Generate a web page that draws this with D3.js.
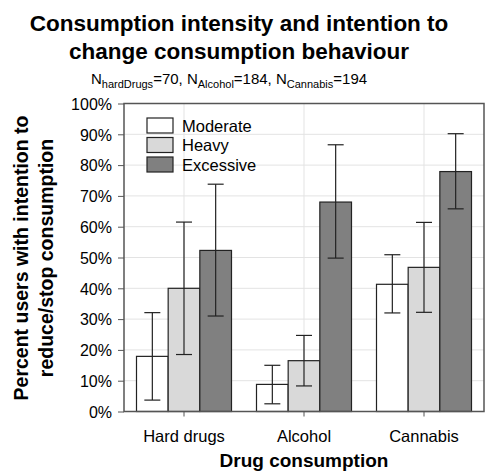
<!DOCTYPE html>
<html>
<head>
<meta charset="utf-8">
<script src="https://cdn.jsdelivr.net/npm/d3@7"></script>
<style>
  body { margin: 0; background: #fff; }
  svg { font-family: "Liberation Sans", Arial, sans-serif; }
</style>
</head>
<body>
<svg width="485" height="472"></svg>
<script>
var categories = ["Hard drugs", "Alcohol", "Cannabis"];
var series = ["Moderate", "Heavy", "Excessive"];
var colors = ["#ffffff", "#d9d9d9", "#808080"];
// percent values per category, in series order
var values = [[17.9, 40.0, 52.3], [8.8, 16.5, 68.0], [41.3, 46.8, 77.9]];
var errLow = [[3.7, 18.5, 31.0], [2.5, 8.3, 49.8], [32.0, 32.2, 65.8]];
var errHigh = [[32.1, 61.5, 73.8], [15.0, 24.7, 86.6], [50.9, 61.4, 90.2]];
var yTicks = [0, 10, 20, 30, 40, 50, 60, 70, 80, 90, 100];

(function() {
var svg = d3.select("svg");
var pl = 124, pr = 484, pt = 103.5, pb = 411.5;

var x = d3.scaleBand().domain(categories).range([pl, pr]).paddingInner(0).paddingOuter(0);
var x1 = d3.scaleBand().domain(series).range([12.5, x.bandwidth() - 12.5]);
var y = d3.scaleLinear().domain([0, 100]).range([pb, pt]);

// grid
var grid = svg.append("g");
grid.selectAll("line.h").data(yTicks.slice(1, -1)).enter().append("line")
  .attr("x1", pl).attr("x2", pr)
  .attr("y1", function(d) { return y(d); }).attr("y2", function(d) { return y(d); })
  .style("stroke", "#e3e3e3").style("stroke-width", 1);
grid.selectAll("line.v").data(categories).enter().append("line")
  .attr("x1", function(d) { return x(d) + x.bandwidth() / 2; })
  .attr("x2", function(d) { return x(d) + x.bandwidth() / 2; })
  .attr("y1", pt).attr("y2", pb)
  .style("stroke", "#e3e3e3").style("stroke-width", 1);

// bars
var groups = svg.append("g").selectAll("g").data(categories).enter().append("g")
  .attr("transform", function(d) { return "translate(" + x(d) + ",0)"; });

groups.each(function(c, ci) {
  var g = d3.select(this);
  series.forEach(function(s, si) {
    var v = values[ci][si];
    g.append("rect")
      .attr("x", x1(s)).attr("width", x1.bandwidth())
      .attr("y", y(v)).attr("height", y(0) - y(v))
      .style("fill", colors[si]).style("stroke", "#222").style("stroke-width", 1.2);
  });
  series.forEach(function(s, si) {
    var cx = x1(s) + x1.bandwidth() / 2;
    var lo = y(errLow[ci][si]), hi = y(errHigh[ci][si]);
    g.append("line").attr("x1", cx).attr("x2", cx).attr("y1", lo).attr("y2", hi)
      .style("stroke", "#222").style("stroke-width", 1.2);
    [lo, hi].forEach(function(yy) {
      g.append("line").attr("x1", cx - 8).attr("x2", cx + 8).attr("y1", yy).attr("y2", yy)
        .style("stroke", "#222").style("stroke-width", 1.2);
    });
  });
});

// frame
svg.append("rect").attr("x", pl).attr("y", pt).attr("width", pr - pl).attr("height", pb - pt)
  .style("fill", "none").style("stroke", "#555").style("stroke-width", 1.5);

// axes
var yAxis = svg.append("g").attr("transform", "translate(" + pl + ",0)")
  .call(d3.axisLeft(y).tickValues(yTicks).tickSize(6).tickPadding(6).tickFormat(function(d) { return d + "%"; }));
yAxis.select(".domain").remove();
yAxis.selectAll("line").style("stroke", "#555");
yAxis.selectAll("text").style("font-size", "16px").style("fill", "#000").attr("dy", "0.36em");

var xAxis = svg.append("g").attr("transform", "translate(0," + pb + ")")
  .call(d3.axisBottom(x).tickSize(5).tickPadding(14));
xAxis.select(".domain").remove();
xAxis.selectAll("line").style("stroke", "#555");
xAxis.selectAll("text").style("font-size", "16.5px").style("fill", "#000");

// legend
var legend = svg.append("g").attr("transform", "translate(147,118)");
series.forEach(function(s, i) {
  legend.append("rect").attr("x", 0).attr("y", i * 19.5).attr("width", 26).attr("height", 15)
    .style("fill", colors[i]).style("stroke", "#222").style("stroke-width", 1.2);
  legend.append("text").attr("x", 35).attr("y", i * 19.5 + 13.5).text(s)
    .style("font-size", "16.5px");
});

// titles
svg.append("text").attr("x", 239).attr("y", 31).attr("text-anchor", "middle")
  .style("font-size", "22.5px").style("font-weight", "bold").text("Consumption intensity and intention to");
svg.append("text").attr("x", 239).attr("y", 58.5).attr("text-anchor", "middle")
  .style("font-size", "22.5px").style("font-weight", "bold").text("change consumption behaviour");

var sub = svg.append("text").attr("x", 229).attr("y", 84).attr("text-anchor", "middle").style("font-size", "15px");
[["N", "hardDrugs", "=70, "], ["N", "Alcohol", "=184, "], ["N", "Cannabis", "=194"]].forEach(function(p) {
  sub.append("tspan").text(p[0]);
  sub.append("tspan").attr("dy", 4).style("font-size", "11px").text(p[1]);
  sub.append("tspan").attr("dy", -4).text(p[2]);
});

svg.append("text").attr("x", 304).attr("y", 467).attr("text-anchor", "middle")
  .style("font-size", "19px").style("font-weight", "bold").text("Drug consumption");

var yl = svg.append("text").attr("transform", "translate(0,258) rotate(-90)")
  .attr("text-anchor", "middle").style("font-size", "19.5px").style("font-weight", "bold");
yl.append("tspan").attr("x", 0).attr("y", 28).text("Percent users with intention to");
yl.append("tspan").attr("x", 0).attr("y", 53).text("reduce/stop consumption");
})();
</script>
</body>
</html>
